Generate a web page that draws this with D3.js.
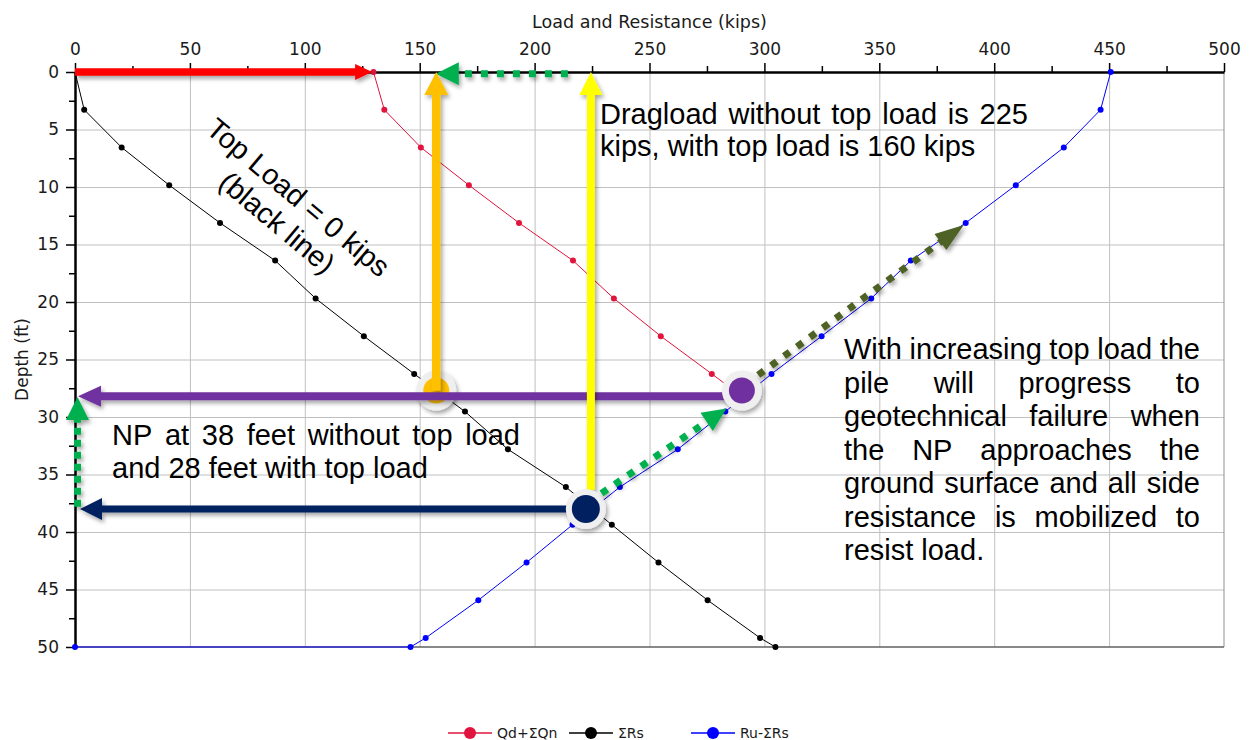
<!DOCTYPE html>
<html><head><meta charset="utf-8">
<script src="https://cdn.jsdelivr.net/npm/d3@7"></script>
<style>
html,body{margin:0;padding:0;background:#fff;}
svg{display:block;}
</style></head>
<body>
<svg id="chart" width="1250" height="740"></svg>
<script>
// ---------------- DATA ----------------
const xTicks = [0, 50, 100, 150, 200, 250, 300, 350, 400, 450, 500];
const yTicks = [0, 5, 10, 15, 20, 25, 30, 35, 40, 45, 50];
const depths = [0, 3.28, 6.56, 9.84, 13.12, 16.40, 19.69, 22.97, 26.25, 29.53, 32.81, 36.09, 39.37, 42.65, 45.93, 49.21, 50];
const redDepth = [0, 3.28, 6.56, 9.84, 13.12, 16.40, 19.69, 22.97, 26.25, 28.27];
const redLoad = [129.9, 134.6, 150.5, 171.4, 193.2, 216.7, 234.5, 254.9, 277.1, 290.6];
const blackLoad = [0, 4.0, 20.3, 41.0, 63.1, 87.1, 104.7, 125.7, 147.6, 169.7, 188.4, 213.6, 233.6, 253.9, 275.3, 298.1, 304.8];
const blueDepth = [0, 3.28, 6.56, 9.84, 13.12, 16.40, 19.69, 22.97, 26.25, 29.53, 32.81, 36.09, 39.37, 42.65, 45.93, 49.21, 50, 50];
const blueLoad = [450.7, 446.3, 430.3, 409.4, 387.6, 363.7, 346.5, 324.9, 303.1, 283.0, 262.3, 237.1, 216.5, 196.5, 175.5, 152.6, 146.0, 0];
const seriesNames = ["Qd+ΣQn", "ΣRs", "Ru-ΣRs"];
const seriesColors = ["#E0143C", "#000000", "#0000FF"];

// annotation anchor values (kips, ft)
const npWithout = {load: 222.3, depth: 38.0};
const npWith = {load: 290.2, depth: 27.7};
const topLoadPt = {load: 157.2, depth: 27.7};
const dragNoTop = 224.5;

const dragText = ["Dragload without top load is 225", "kips, with top load is 160 kips"];
const npText = ["NP at 38 feet without top load", "and 28 feet with top load"];
const failText = ["With increasing top load the", "pile will progress to", "geotechnical failure when",
  "the NP approaches the", "ground surface and all side", "resistance is mobilized to", "resist load."];
const topLoadText = ["Top Load = 0 kips", "(black line)"];

// ---------------- SETUP ----------------
const svg = d3.select("#chart");
const L = 75, R = 1224, T = 72, B = 647;
const x = d3.scaleLinear().domain([0, 500]).range([L, R]);
const y = d3.scaleLinear().domain([0, 50]).range([T, B]);
const axisFont = "'DejaVu Sans', Verdana, sans-serif";
const annFont = "'Liberation Sans', Arial, sans-serif";

const defs = svg.append("defs");
const f = defs.append("filter").attr("id", "shadow").attr("filterUnits", "userSpaceOnUse")
  .attr("x", 0).attr("y", 0).attr("width", 1250).attr("height", 740);
f.append("feDropShadow").attr("dx", 2).attr("dy", 3).attr("stdDeviation", 2)
  .attr("flood-color", "#000").attr("flood-opacity", 0.35);

// gridlines
svg.append("g").attr("transform", `translate(0,${T})`)
  .call(d3.axisTop(x).tickValues(xTicks.filter(d => d > 0 && d < 500)).tickSize(-(B - T)).tickFormat(""))
  .call(g => g.select(".domain").remove())
  .call(g => g.selectAll("line").attr("stroke", "#C0C0C0").attr("stroke-width", 1));
svg.append("g").attr("transform", `translate(${L},0)`)
  .call(d3.axisLeft(y).tickValues(yTicks.filter(d => d > 0 && d < 50)).tickSize(-(R - L)).tickFormat(""))
  .call(g => g.select(".domain").remove())
  .call(g => g.selectAll("line").attr("stroke", "#C0C0C0").attr("stroke-width", 1));
// right & bottom border
svg.append("line").attr("x1", R).attr("x2", R).attr("y1", T).attr("y2", B).attr("stroke", "#909090").attr("stroke-width", 1);
svg.append("line").attr("x1", L).attr("x2", R).attr("y1", B).attr("y2", B).attr("stroke", "#606060").attr("stroke-width", 1.5);

// axes
const minorX = d3.range(25, 500, 50);
const minorY = d3.range(2.5, 50, 5);
svg.append("g").attr("transform", `translate(0,${T})`)
  .call(d3.axisTop(x).tickValues(minorX).tickSize(6).tickSizeOuter(0).tickFormat(""))
  .call(g => g.select(".domain").remove())
  .call(g => g.selectAll("line").attr("stroke", "#000").attr("stroke-width", 1.5));
svg.append("g").attr("transform", `translate(${L},0)`)
  .call(d3.axisLeft(y).tickValues(minorY).tickSize(6).tickSizeOuter(0).tickFormat(""))
  .call(g => g.select(".domain").remove())
  .call(g => g.selectAll("line").attr("stroke", "#000").attr("stroke-width", 1.5));
svg.append("g").attr("transform", `translate(0,${T})`)
  .call(d3.axisTop(x).tickValues(xTicks).tickSize(9).tickSizeOuter(0).tickPadding(8))
  .call(g => g.select(".domain").attr("stroke", "#000").attr("stroke-width", 2.5))
  .call(g => g.selectAll("line").attr("stroke", "#000").attr("stroke-width", 1.5))
  .call(g => g.selectAll("text").attr("font-family", axisFont).attr("font-size", 17).attr("fill", "#1a1a1a"));
svg.append("g").attr("transform", `translate(${L},0)`)
  .call(d3.axisLeft(y).tickValues(yTicks).tickSize(9).tickSizeOuter(0).tickPadding(7))
  .call(g => g.select(".domain").attr("stroke", "#000").attr("stroke-width", 2.5))
  .call(g => g.selectAll("line").attr("stroke", "#000").attr("stroke-width", 1.5))
  .call(g => g.selectAll("text").attr("font-family", axisFont).attr("font-size", 17).attr("fill", "#1a1a1a"));

svg.append("text").attr("x", (L + R) / 2).attr("y", 28).attr("text-anchor", "middle")
  .attr("font-family", axisFont).attr("font-size", 17.5).attr("fill", "#1a1a1a").text("Load and Resistance (kips)");
svg.append("text").attr("transform", `translate(28,${(T + B) / 2}) rotate(-90)`).attr("text-anchor", "middle")
  .attr("font-family", axisFont).attr("font-size", 17).attr("fill", "#1a1a1a").text("Depth (ft)");

// ---------------- SERIES ----------------
const series = [
  {pts: redLoad.map((v, i) => [v, redDepth[i]]), color: seriesColors[0], markers: redLoad.map((v, i) => [v, redDepth[i]])},
  {pts: blackLoad.map((v, i) => [v, depths[i]]), color: seriesColors[1], markers: blackLoad.map((v, i) => [v, depths[i]]).slice(1)},
  {pts: blueLoad.map((v, i) => [v, blueDepth[i]]), color: seriesColors[2], markers: blueLoad.map((v, i) => [v, blueDepth[i]])}
];
const line = d3.line().x(d => x(d[0])).y(d => y(d[1]));
series.forEach(s => {
  svg.append("path").attr("d", line(s.pts)).attr("fill", "none").attr("stroke", s.color).attr("stroke-width", 1);
  svg.append("g").selectAll("circle").data(s.markers).join("circle")
    .attr("cx", d => x(d[0])).attr("cy", d => y(d[1])).attr("r", 3).attr("fill", s.color);
});

// ---------------- ANNOTATIONS ----------------
const ann = svg.append("g");
function arrow(x1, y1, x2, y2, color, w, hl, hw, dash) {
  const dx = x2 - x1, dy = y2 - y1, len = Math.hypot(dx, dy);
  const ux = dx / len, uy = dy / len, px = -uy, py = ux;
  const bx = x2 - ux * hl, by = y2 - uy * hl;
  const g = ann.append("g").attr("filter", "url(#shadow)");
  g.append("line").attr("x1", x1).attr("y1", y1).attr("x2", bx + ux * 1).attr("y2", by + uy * 1)
    .attr("stroke", color).attr("stroke-width", w).attr("stroke-dasharray", dash || null);
  g.append("polygon").attr("points", [[x2, y2], [bx + px * hw / 2, by + py * hw / 2], [bx - px * hw / 2, by - py * hw / 2]].map(p => p.join(",")).join(" "))
    .attr("fill", color);
}
function npCircle(cx, cy, color, r) {
  const g = ann.append("g");
  g.append("circle").attr("cx", cx).attr("cy", cy).attr("r", 20).attr("fill", "#EFEFEF").attr("filter", "url(#shadow)");
  g.append("circle").attr("cx", cx).attr("cy", cy).attr("r", r).attr("fill", color);
}

// red arrow at top
arrow(x(0), y(0), x(129.3), y(0), "#FF0000", 7.5, 17, 16);
// green dotted top arrow (dragload reduction)
arrow(x(214.5), y(0) + 1.7, x(157), y(0) + 1.7, "#00B050", 7, 23, 23, "7,9");
// orange circle + arrow
npCircle(x(topLoadPt.load), y(topLoadPt.depth), "#FFC000", 13);
arrow(x(topLoadPt.load), y(topLoadPt.depth), x(topLoadPt.load), y(0), "#FFC000", 8.5, 23, 24);
// purple arrow
arrow(x(npWith.load), y(28.2), x(0) + 3, y(28.2), "#7030A0", 8, 23, 21);
npCircle(x(npWith.load), y(npWith.depth), "#7030A0", 13);
// navy arrow
arrow(x(npWithout.load), y(38.0), x(0) + 5, y(38.0), "#002060", 7, 22, 22);
// yellow arrow
arrow(x(dragNoTop), y(npWithout.depth) - 19, x(dragNoTop), y(0), "#FFFF00", 8, 23, 23);
npCircle(x(npWithout.load), y(npWithout.depth), "#002060", 14);
// green vertical dotted
arrow(x(1.1), y(37.8), x(1.1), y(28.25), "#00B050", 7, 23, 23, "7,5");
// green diagonal dotted
arrow(x(229.1), y(36.64), x(283.5), y(29.25), "#00B050", 7, 24, 22, "7,9");
// olive diagonal dotted
arrow(x(297.3), y(26.35), x(386.8), y(13.3), "#4F6228", 7, 29, 20, "7,9");

// ---------------- TEXT ----------------
function justified(lines, x0, width, base, lh, justifyAll) {
  lines.forEach((ln, i) => {
    const words = ln.split(" ");
    const yy = base + i * lh;
    const last = i === lines.length - 1 && !justifyAll;
    const nodes = words.map(w => svg.append("text").attr("y", yy).attr("font-family", annFont)
      .attr("font-size", 29).attr("fill", "#000").text(w));
    const widths = nodes.map(n => n.node().getComputedTextLength());
    const total = d3.sum(widths);
    const sp = last || words.length < 2 ? 8 : (width - total) / (words.length - 1);
    let cx = x0;
    nodes.forEach((n, k) => { n.attr("x", cx); cx += widths[k] + sp; });
  });
}
justified(dragText, 600, 428, 124, 32, false);
justified(npText, 112, 408, 445, 33, false);
justified(failText, 844, 356, 359, 33.5, false);

const tl = svg.append("g").attr("transform", "translate(292,205) rotate(40)");
topLoadText.forEach((t, i) => tl.append("text").attr("x", 0).attr("y", i * 33).attr("text-anchor", "middle")
  .attr("font-family", annFont).attr("font-size", 29).attr("fill", "#000").text(t));

// ---------------- LEGEND ----------------
const legX = [448, 569, 691];
const lg = svg.append("g");
seriesNames.forEach((n, i) => {
  lg.append("line").attr("x1", legX[i]).attr("x2", legX[i] + 44).attr("y1", 733).attr("y2", 733)
    .attr("stroke", seriesColors[i]).attr("stroke-width", 1.5);
  lg.append("circle").attr("cx", legX[i] + 22).attr("cy", 733).attr("r", 6).attr("fill", seriesColors[i]);
  lg.append("text").attr("x", legX[i] + 49).attr("y", 738).attr("font-family", axisFont).attr("font-size", 14)
    .attr("fill", "#1a1a1a").text(n);
});
</script>
</body></html>
